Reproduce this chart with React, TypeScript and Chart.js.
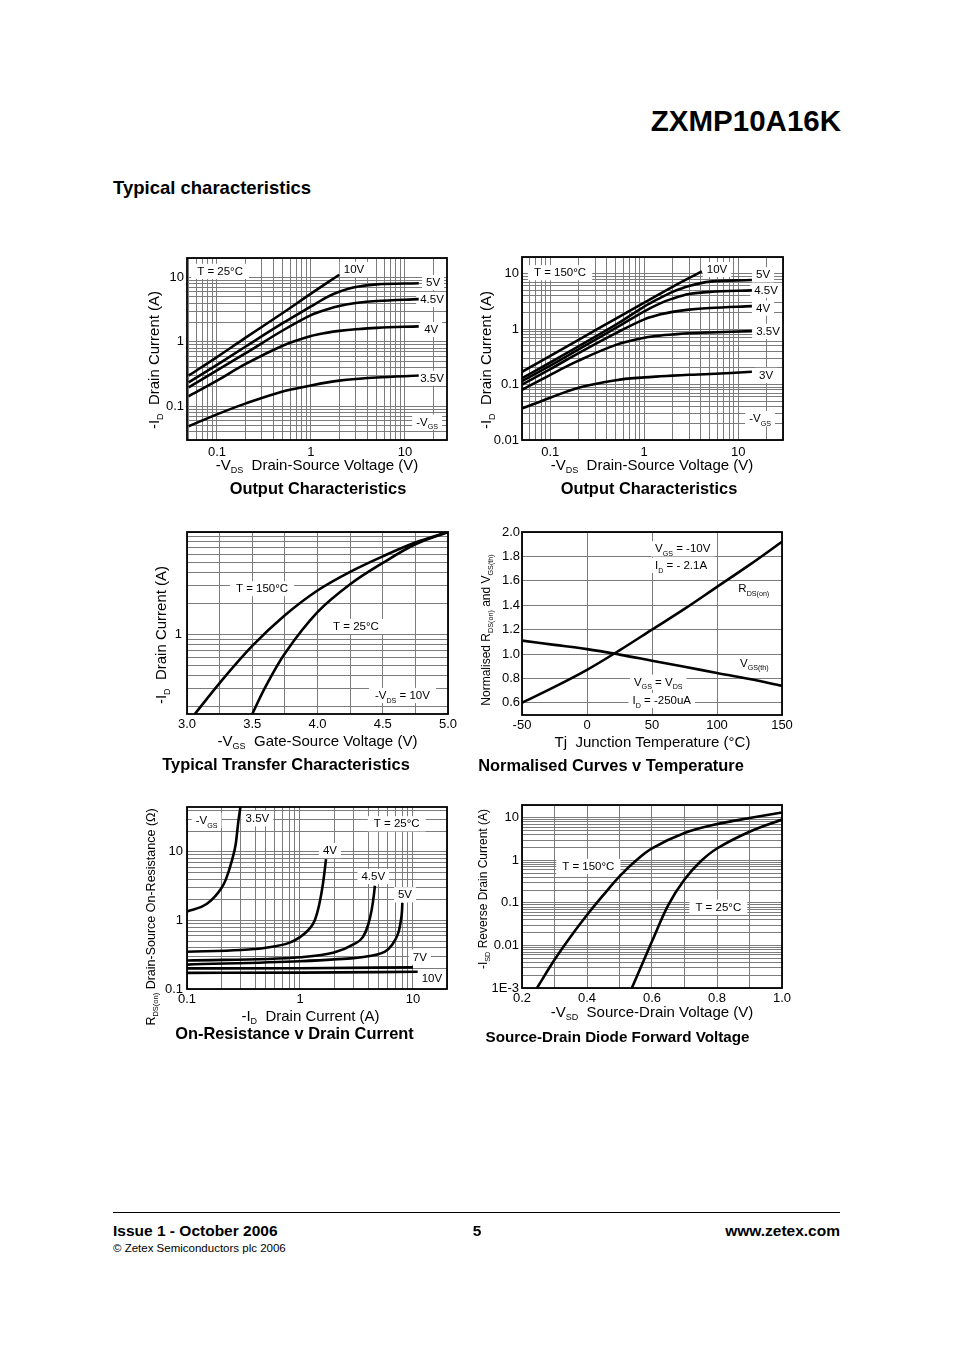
import React, { useEffect, useRef } from 'react';
import { Chart, registerables } from 'chart.js';
Chart.register(...registerables);

const FONT = '"Liberation Sans", Arial, Helvetica, sans-serif';
const GRID = '#7c7c7c';
Chart.defaults.font.family = FONT;
Chart.defaults.color = '#000';

// ---------- Chart 1: Output characteristics, T = 25°C ----------
const c1Vds10 = [0.05, 0.1, 0.2, 0.5, 1, 2];
const c1Id10V = [0.3, 0.58, 1.15, 2.8, 5.6, 11];
const c1Vds = [0.05, 0.1, 0.2, 0.5, 1, 1.5, 2, 3, 5, 14];
const c1Id5V = [0.235, 0.44, 0.84, 1.95, 3.55, 5.0, 6.0, 7.1, 7.8, 8.1];
const c1Id45V = [0.196, 0.36, 0.66, 1.5, 2.6, 3.2, 3.6, 4.0, 4.3, 4.6];
const c1Id4V = [0.143, 0.25, 0.45, 0.87, 1.23, 1.39, 1.48, 1.57, 1.65, 1.74];
const c1Id35V = [0.049, 0.075, 0.11, 0.17, 0.21, 0.235, 0.25, 0.265, 0.28, 0.3];
const c1XTicks = [0.1, 1, 10];
const c1XText = ['0.1', '1', '10'];
const c1YTicks = [0.1, 1, 10];
const c1YText = ['0.1', '1', '10'];

// ---------- Chart 2: Output characteristics, T = 150°C ----------
const c2Vds10 = [0.05, 0.1, 0.2, 0.5, 1, 2, 4.1];
const c2Id10V = [0.17, 0.33, 0.64, 1.55, 3.0, 5.8, 11];
const c2Vds = [0.05, 0.1, 0.2, 0.5, 1, 1.5, 2, 3, 5, 14];
const c2Id5V = [0.13, 0.25, 0.49, 1.2, 2.55, 3.7, 4.7, 6.0, 7.2, 7.7];
const c2Id45V = [0.115, 0.22, 0.43, 1.05, 2.1, 2.95, 3.55, 4.3, 4.7, 5.0];
const c2Id4V = [0.1, 0.19, 0.37, 0.85, 1.5, 1.85, 2.05, 2.25, 2.4, 2.6];
const c2Id35V = [0.08, 0.15, 0.27, 0.52, 0.7, 0.77, 0.8, 0.84, 0.87, 0.92];
const c2Id3V = [0.037, 0.058, 0.088, 0.12, 0.135, 0.141, 0.145, 0.15, 0.155, 0.17];
const c2XTicks = [0.1, 1, 10];
const c2XText = ['0.1', '1', '10'];
const c2YTicks = [0.01, 0.1, 1, 10];
const c2YText = ['0.01', '0.1', '1', '10'];

// ---------- Chart 3: Typical transfer characteristics ----------
const c3Vgs150 = [3.06, 3.25, 3.5, 3.75, 4.0, 4.25, 4.5, 4.75, 5.0];
const c3Id150 = [0.17, 0.34, 0.78, 1.55, 2.7, 4.1, 5.8, 7.9, 10];
const c3Vgs25 = [3.5, 3.6, 3.75, 4.0, 4.25, 4.5, 4.75, 5.0];
const c3Id25 = [0.17, 0.31, 0.66, 1.66, 3.1, 5.0, 7.6, 10];
const c3XTicks = [3.0, 3.5, 4.0, 4.5, 5.0];
const c3XText = ['3.0', '3.5', '4.0', '4.5', '5.0'];
const c3YTicks = [1];
const c3YText = ['1'];

// ---------- Chart 4: Normalised curves v temperature ----------
const c4Tj = [-50, -25, 0, 25, 50, 75, 100, 125, 150];
const c4Rds = [0.6, 0.73, 0.87, 1.03, 1.2, 1.37, 1.55, 1.73, 1.92];
const c4Vth = [1.11, 1.075, 1.04, 0.995, 0.945, 0.895, 0.845, 0.795, 0.74];
const c4XTicks = [-50, 0, 50, 100, 150];
const c4XText = ['-50', '0', '50', '100', '150'];
const c4YTicks = [0.6, 0.8, 1.0, 1.2, 1.4, 1.6, 1.8, 2.0];
const c4YText = ['0.6', '0.8', '1.0', '1.2', '1.4', '1.6', '1.8', '2.0'];

// ---------- Chart 5: On-resistance v drain current ----------
const c5Id35 = [0.1, 0.15, 0.2, 0.22, 0.25, 0.27, 0.285, 0.3];
const c5R35 = [1.35, 1.75, 2.9, 3.9, 7.5, 13, 28, 50];
const c5Id4 = [0.1, 0.3, 0.5, 0.8, 1.0, 1.2, 1.35, 1.48, 1.6, 1.7];
const c5R4 = [0.35, 0.37, 0.4, 0.47, 0.57, 0.74, 1.0, 1.7, 3.5, 7.8];
const c5Id45 = [0.1, 1, 2, 3, 3.6, 4.0, 4.3, 4.5, 4.6];
const c5R45 = [0.26, 0.29, 0.34, 0.45, 0.57, 0.85, 1.4, 2.3, 3.2];
const c5Id5 = [0.1, 1, 2, 4, 6, 7, 7.5, 7.8, 8.0, 8.05];
const c5R5 = [0.227, 0.254, 0.27, 0.3, 0.377, 0.53, 0.7, 0.98, 1.4, 1.8];
const c5Id7 = [0.1, 1, 10];
const c5R7 = [0.2, 0.201, 0.207];
const c5Id10 = [0.1, 1, 11];
const c5R10 = [0.172, 0.173, 0.178];
const c5XTicks = [0.1, 1, 10];
const c5XText = ['0.1', '1', '10'];
const c5YTicks = [0.1, 1, 10];
const c5YText = ['0.1', '1', '10'];

// ---------- Chart 6: Source-drain diode forward voltage ----------
const c6Vsd150 = [0.246, 0.3, 0.35, 0.4, 0.45, 0.5, 0.55, 0.6, 0.7, 0.8, 0.9, 1.0];
const c6Isd150 = [0.001, 0.0046, 0.0163, 0.052, 0.152, 0.42, 0.98, 1.92, 4.4, 7.1, 9.85, 13.3];
const c6Vsd25 = [0.538, 0.6, 0.65, 0.7, 0.75, 0.8, 0.9, 1.0];
const c6Isd25 = [0.001, 0.0125, 0.089, 0.355, 0.95, 1.9, 4.7, 9.1];
const c6XTicks = [0.2, 0.4, 0.6, 0.8, 1.0];
const c6XText = ['0.2', '0.4', '0.6', '0.8', '1.0'];
const c6YTicks = [0.001, 0.01, 0.1, 1, 10];
const c6YText = ['1E-3', '0.01', '0.1', '1', '10'];

// ---------- helpers ----------
const PADL = 60, PADT = 14, PADR = 22, PADB = 26;

type Rect = { l: number; t: number; r: number; b: number };
type Note = { x: number; y: number; text: string; align?: 'left' | 'center' | 'right'; size?: number; padX?: number };
type AxisSpec = {
  type: 'linear' | 'logarithmic';
  min: number; max: number; grid: number[]; vals: number[]; text: string[]; pad: number;
};

function logGrid(min: number, max: number): number[] {
  const out: number[] = [];
  for (let e = Math.floor(Math.log10(min)); e <= Math.ceil(Math.log10(max)); e++) {
    for (let m = 1; m <= 9; m++) {
      const v = parseFloat((m * Math.pow(10, e)).toPrecision(6));
      if (v >= min * 0.9999 && v <= max * 1.0001) out.push(v);
    }
  }
  return out;
}
function linGrid(min: number, max: number, step: number): number[] {
  const out: number[] = [];
  const n = Math.round((max - min) / step);
  for (let i = 0; i <= n; i++) out.push(parseFloat((min + i * step).toPrecision(8)));
  return out;
}

function parseRich(s: string): { t: string; sub: boolean }[] {
  const out: { t: string; sub: boolean }[] = [];
  const re = /_\{([^}]*)\}/g;
  let last = 0;
  let m: RegExpExecArray | null;
  while ((m = re.exec(s))) {
    if (m.index > last) out.push({ t: s.slice(last, m.index), sub: false });
    out.push({ t: m[1], sub: true });
    last = re.lastIndex;
  }
  if (last < s.length) out.push({ t: s.slice(last), sub: false });
  return out;
}

function makeNotesPlugin(items: Note[]) {
  return {
    id: 'notes',
    beforeDatasetsDraw(chart: any) {
      const ctx: CanvasRenderingContext2D = chart.ctx;
      const xs = chart.scales.x, ys = chart.scales.y;
      ctx.save();
      for (const it of items) {
        const size = it.size || 11.5;
        const parts = parseRich(it.text);
        const widths = parts.map((p) => {
          ctx.font = `${p.sub ? size * 0.62 : size}px ${FONT}`;
          return ctx.measureText(p.t).width;
        });
        const total = widths.reduce((a, b) => a + b, 0);
        const px = xs.getPixelForValue(it.x);
        const py = ys.getPixelForValue(it.y);
        const x0 = it.align === 'left' ? px : it.align === 'right' ? px - total : px - total / 2;
        const padX = it.padX ?? 4;
        ctx.fillStyle = '#fff';
        ctx.fillRect(x0 - padX, py - size * 0.62, total + padX * 2, size * 1.32);
        ctx.fillStyle = '#000';
        ctx.textAlign = 'left';
        ctx.textBaseline = 'alphabetic';
        const base = py + size * 0.36;
        let cx = x0;
        parts.forEach((p, i) => {
          ctx.font = `${p.sub ? size * 0.62 : size}px ${FONT}`;
          ctx.fillText(p.t, cx, p.sub ? base + size * 0.3 : base);
          cx += widths[i];
        });
      }
      ctx.restore();
    },
  };
}

const framePlugin = {
  id: 'frame',
  afterDatasetsDraw(chart: any) {
    const { left, top, right, bottom } = chart.chartArea;
    const ctx: CanvasRenderingContext2D = chart.ctx;
    ctx.save();
    ctx.strokeStyle = '#000';
    ctx.lineWidth = 1.8;
    ctx.strokeRect(left, top, right - left, bottom - top);
    ctx.restore();
  },
};

function scaleOpts(kind: 'x' | 'y', a: AxisSpec) {
  return {
    type: a.type,
    min: a.min,
    max: a.max,
    position: kind === 'x' ? 'bottom' : 'left',
    afterBuildTicks: (s: any) => {
      s.ticks = a.grid.map((v) => ({ value: v }));
    },
    afterFit: (s: any) => {
      if (kind === 'x') s.height = PADB;
      else s.width = PADL;
    },
    grid: { color: GRID, lineWidth: 1, drawTicks: false },
    border: { display: false },
    ticks: {
      autoSkip: false,
      maxRotation: 0,
      minRotation: 0,
      padding: a.pad,
      color: '#000',
      font: { size: 13, family: FONT },
      callback: (v: any) => {
        const val = Number(v);
        const i = a.vals.findIndex((q) => Math.abs(q - val) <= Math.abs(q) * 1e-6 + 1e-12);
        return i >= 0 ? a.text[i] : '';
      },
    },
  };
}

function series(xs: number[], ys: number[], smooth: 'monotone' | number = 0.35) {
  const base: any = {
    data: xs.map((x, i) => ({ x, y: ys[i] })),
    borderColor: '#000',
    backgroundColor: '#000',
    borderWidth: 2.6,
    pointRadius: 0,
    fill: false,
  };
  if (smooth === 'monotone') base.cubicInterpolationMode = 'monotone';
  else base.tension = smooth;
  return base;
}

function buildConfig(x: AxisSpec, y: AxisSpec, data: any[], notes: Note[]) {
  return {
    type: 'line',
    data: { datasets: data },
    options: {
      animation: false,
      responsive: false,
      events: [],
      layout: { padding: { left: 0, top: PADT, right: PADR, bottom: 0 } },
      plugins: { legend: { display: false }, tooltip: { enabled: false } },
      scales: { x: scaleOpts('x', x), y: scaleOpts('y', y) },
    },
    plugins: [makeNotesPlugin(notes), framePlugin],
  };
}

function Plot({ rect, cfg }: { rect: Rect; cfg: () => any }) {
  const ref = useRef<HTMLCanvasElement>(null);
  useEffect(() => {
    const c = new Chart(ref.current as HTMLCanvasElement, cfg());
    return () => c.destroy();
  }, []);
  const w = rect.r - rect.l + PADL + PADR;
  const h = rect.b - rect.t + PADT + PADB;
  return (
    <canvas
      ref={ref}
      width={w}
      height={h}
      style={{ position: 'absolute', left: rect.l - PADL, top: rect.t - PADT, width: w, height: h }}
    />
  );
}

function Rich({ text }: { text: string }) {
  return (
    <>
      {parseRich(text).map((p, i) =>
        p.sub ? (
          <span key={i} style={{ fontSize: '0.6em', position: 'relative', top: '0.4em' }}>{p.t}</span>
        ) : (
          <span key={i}>{p.t}</span>
        )
      )}
    </>
  );
}

function Txt(props: { cx: number; cy: number; size: number; text: string; bold?: boolean; align?: 'left' | 'center' | 'right'; rotate?: boolean }) {
  const { cx, cy, size, text, bold, align = 'center', rotate } = props;
  const style: React.CSSProperties = {
    position: 'absolute',
    top: cy - size / 2,
    fontSize: size,
    lineHeight: `${size}px`,
    fontWeight: bold ? 700 : 400,
    whiteSpace: 'pre',
  };
  if (rotate) {
    style.left = cx;
    style.top = cy;
    style.transform = 'translate(-50%, -50%) rotate(-90deg)';
  } else if (align === 'center') {
    style.left = cx;
    style.transform = 'translateX(-50%)';
  } else if (align === 'left') {
    style.left = cx;
  } else {
    style.right = 954 - cx;
  }
  return <div style={style}><Rich text={text} /></div>;
}

// ---------- chart configs ----------
const R1: Rect = { l: 187, t: 258, r: 447, b: 440 };
const R2: Rect = { l: 522, t: 257, r: 783, b: 440 };
const R3: Rect = { l: 187, t: 532, r: 448, b: 714 };
const R4: Rect = { l: 522, t: 532, r: 782, b: 715 };
const R5: Rect = { l: 187, t: 807, r: 447, b: 989 };
const R6: Rect = { l: 522, t: 805, r: 782, b: 988 };

const cfg1 = () =>
  buildConfig(
    { type: 'logarithmic', min: 0.048, max: 28, grid: logGrid(0.048, 28), vals: c1XTicks, text: c1XText, pad: 5 },
    { type: 'logarithmic', min: 0.03, max: 20, grid: logGrid(0.03, 20), vals: c1YTicks, text: c1YText, pad: 3 },
    [
      series(c1Vds10, c1Id10V),
      series(c1Vds, c1Id5V),
      series(c1Vds, c1Id45V),
      series(c1Vds, c1Id4V),
      series(c1Vds, c1Id35V),
    ],
    [
      { x: 0.108, y: 12.6, text: 'T = 25°C', padX: 6 },
      { x: 2.87, y: 13.5, text: '10V' },
      { x: 19.9, y: 8.5, text: '5V' },
      { x: 19.4, y: 4.62, text: '4.5V' },
      { x: 19.0, y: 1.58, text: '4V' },
      { x: 19.4, y: 0.278, text: '3.5V' },
      { x: 17.2, y: 0.0577, text: '-V_{GS}' },
    ]
  );

const cfg2 = () =>
  buildConfig(
    { type: 'logarithmic', min: 0.05, max: 30, grid: logGrid(0.05, 30), vals: c2XTicks, text: c2XText, pad: 5 },
    { type: 'logarithmic', min: 0.01, max: 20, grid: logGrid(0.01, 20), vals: c2YTicks, text: c2YText, pad: 3 },
    [
      series(c2Vds10, c2Id10V),
      series(c2Vds, c2Id5V),
      series(c2Vds, c2Id45V),
      series(c2Vds, c2Id4V),
      series(c2Vds, c2Id35V),
      series(c2Vds, c2Id3V),
    ],
    [
      { x: 0.127, y: 10.6, text: 'T = 150°C', padX: 6 },
      { x: 5.95, y: 12.15, text: '10V' },
      { x: 18.4, y: 9.75, text: '5V' },
      { x: 19.8, y: 5.08, text: '4.5V' },
      { x: 18.4, y: 2.44, text: '4V' },
      { x: 20.8, y: 0.925, text: '3.5V' },
      { x: 19.8, y: 0.149, text: '3V' },
      { x: 17.1, y: 0.0247, text: '-V_{GS}' },
    ]
  );

const cfg3 = () =>
  buildConfig(
    { type: 'linear', min: 3, max: 5, grid: linGrid(3, 5, 0.25), vals: c3XTicks, text: c3XText, pad: 3 },
    { type: 'logarithmic', min: 0.17, max: 10, grid: logGrid(0.17, 10), vals: c3YTicks, text: c3YText, pad: 5 },
    [series(c3Vgs150, c3Id150), series(c3Vgs25, c3Id25)],
    [
      { x: 3.575, y: 2.84, text: 'T = 150°C', padX: 6 },
      { x: 4.295, y: 1.22, text: 'T = 25°C', padX: 6 },
      { x: 4.651, y: 0.26, text: '-V_{DS} = 10V', padX: 6 },
    ]
  );

const cfg4 = () =>
  buildConfig(
    { type: 'linear', min: -50, max: 150, grid: linGrid(-50, 150, 50), vals: c4XTicks, text: c4XText, pad: 3 },
    { type: 'linear', min: 0.5, max: 2.0, grid: linGrid(0.6, 2.0, 0.2), vals: c4YTicks, text: c4YText, pad: 2 },
    [series(c4Tj, c4Rds), series(c4Tj, c4Vth)],
    [
      { x: 52.3, y: 1.866, text: 'V_{GS} = -10V', align: 'left' },
      { x: 52.3, y: 1.73, text: 'I_{D} = - 2.1A', align: 'left' },
      { x: 128.3, y: 1.539, text: 'R_{DS(on)}' },
      { x: 128.7, y: 0.929, text: 'V_{GS(th)}' },
      { x: 54.8, y: 0.773, text: 'V_{GS} = V_{DS}' },
      { x: 57.5, y: 0.623, text: 'I_{D} = -250uA' },
    ]
  );

const cfg5 = () =>
  buildConfig(
    { type: 'logarithmic', min: 0.1, max: 20, grid: logGrid(0.1, 20), vals: c5XTicks, text: c5XText, pad: 3 },
    { type: 'logarithmic', min: 0.1, max: 45, grid: logGrid(0.1, 45), vals: c5YTicks, text: c5YText, pad: 4 },
    [
      series(c5Id35, c5R35, 'monotone'),
      series(c5Id4, c5R4, 'monotone'),
      series(c5Id45, c5R45, 'monotone'),
      series(c5Id5, c5R5, 'monotone'),
      series(c5Id7, c5R7, 'monotone'),
      series(c5Id10, c5R10, 'monotone'),
    ],
    [
      { x: 0.149, y: 29.1, text: '-V_{GS}' },
      { x: 0.42, y: 30.8, text: '3.5V' },
      { x: 7.18, y: 26.0, text: 'T = 25°C', padX: 6 },
      { x: 1.84, y: 10.6, text: '4V' },
      { x: 4.45, y: 4.44, text: '4.5V' },
      { x: 8.5, y: 2.4, text: '5V' },
      { x: 11.5, y: 0.296, text: '7V' },
      { x: 14.7, y: 0.143, text: '10V' },
    ]
  );

const cfg6 = () =>
  buildConfig(
    { type: 'linear', min: 0.2, max: 1.0, grid: linGrid(0.2, 1.0, 0.1), vals: c6XTicks, text: c6XText, pad: 3 },
    { type: 'logarithmic', min: 0.001, max: 20, grid: logGrid(0.001, 20), vals: c6YTicks, text: c6YText, pad: 3 },
    [series(c6Vsd150, c6Isd150), series(c6Vsd25, c6Isd25)],
    [
      { x: 0.404, y: 0.737, text: 'T = 150°C', padX: 6 },
      { x: 0.804, y: 0.0815, text: 'T = 25°C', padX: 6 },
    ]
  );

export default function App() {
  return (
    <div
      style={{
        position: 'absolute',
        left: 0,
        top: 0,
        width: 954,
        height: 1351,
        background: '#fff',
        color: '#000',
        fontFamily: FONT,
        overflow: 'hidden',
      }}
    >
      <Txt cx={841} cy={121} size={29.5} bold align="right" text="ZXMP10A16K" />
      <Txt cx={113} cy={188} size={18.5} bold align="left" text="Typical characteristics" />

      <Plot rect={R1} cfg={cfg1} />
      <Plot rect={R2} cfg={cfg2} />
      <Plot rect={R3} cfg={cfg3} />
      <Plot rect={R4} cfg={cfg4} />
      <Plot rect={R5} cfg={cfg5} />
      <Plot rect={R6} cfg={cfg6} />

      {/* axis titles */}
      <Txt cx={155} cy={360} size={15} rotate text="-I_{D}  Drain Current (A)" />
      <Txt cx={317} cy={464} size={15} text="-V_{DS}  Drain-Source Voltage (V)" />
      <Txt cx={487} cy={360} size={15} rotate text="-I_{D}  Drain Current (A)" />
      <Txt cx={652} cy={464} size={15} text="-V_{DS}  Drain-Source Voltage (V)" />
      <Txt cx={162} cy={635} size={15} rotate text="-I_{D}  Drain Current (A)" />
      <Txt cx={317.5} cy={740} size={15} text="-V_{GS}  Gate-Source Voltage (V)" />
      <Txt cx={487} cy={630} size={12} rotate text="Normalised R_{DS(on)} and V_{GS(th)}" />
      <Txt cx={652.5} cy={741} size={15} text="Tj  Junction Temperature (°C)" />
      <Txt cx={152} cy={917} size={12.5} rotate text="R_{DS(on)} Drain-Source On-Resistance (Ω)" />
      <Txt cx={310.5} cy={1015} size={15} text="-I_{D}  Drain Current (A)" />
      <Txt cx={484} cy={889} size={12} rotate text="-I_{SD} Reverse Drain Current (A)" />
      <Txt cx={652} cy={1011} size={15} text="-V_{SD}  Source-Drain Voltage (V)" />

      {/* captions */}
      <Txt cx={318} cy={488} size={16.4} bold text="Output Characteristics" />
      <Txt cx={649} cy={488} size={16.4} bold text="Output Characteristics" />
      <Txt cx={286} cy={764} size={16.4} bold text="Typical Transfer Characteristics" />
      <Txt cx={611} cy={765} size={16.4} bold text="Normalised Curves v Temperature" />
      <Txt cx={294.5} cy={1033} size={16.4} bold text="On-Resistance v Drain Current" />
      <Txt cx={617.5} cy={1037} size={15.2} bold text="Source-Drain Diode Forward Voltage" />

      {/* footer */}
      <div style={{ position: 'absolute', left: 113, top: 1212, width: 727, height: 0, borderTop: '1px solid #000' }} />
      <Txt cx={113} cy={1231} size={15.5} bold align="left" text="Issue 1 - October 2006" />
      <Txt cx={477} cy={1231} size={15.5} bold text="5" />
      <Txt cx={840} cy={1231} size={15.5} bold align="right" text="www.zetex.com" />
      <Txt cx={113} cy={1249} size={11.5} align="left" text="© Zetex Semiconductors plc 2006" />
    </div>
  );
}
